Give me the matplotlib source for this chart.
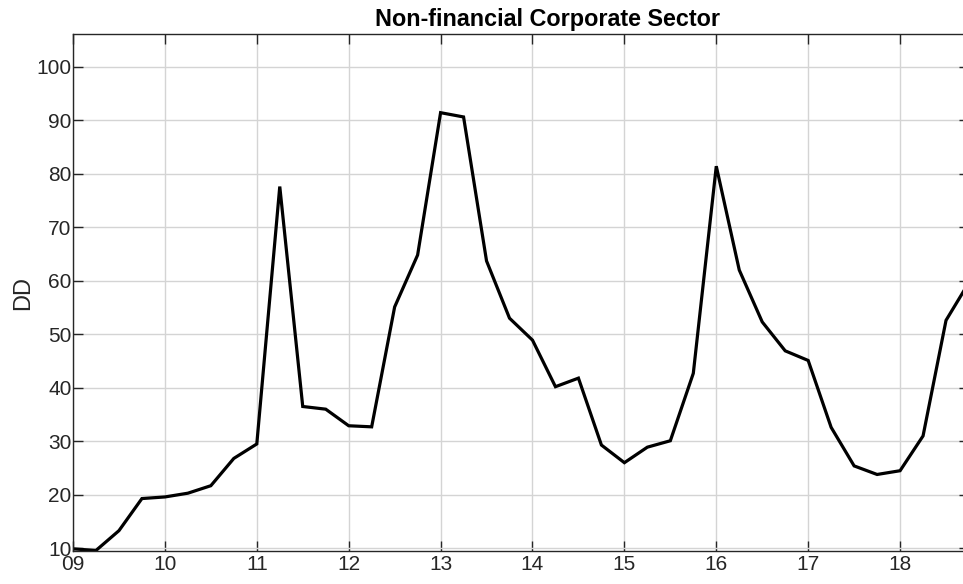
import numpy as np
import matplotlib.pyplot as plt

plt.rcParams['font.family'] = ['Liberation Sans', 'DejaVu Sans']

# quarterly distance-to-default, 2009Q1 .. 2018Q4
quarters = np.arange(2009.0, 2019.0, 0.25) - 2000
dd = [9.9, 9.6, 13.3, 19.3,
      19.6, 20.3, 21.7, 26.8,
      29.5, 77.6, 36.5, 36.0,
      32.9, 32.7, 55.1, 64.8,
      91.4, 90.6, 63.7, 53.0,
      48.9, 40.2, 41.8, 29.3,
      26.0, 28.9, 30.1, 42.7,
      81.4, 62.0, 52.3, 46.9,
      45.1, 32.6, 25.4, 23.8,
      24.5, 31.0, 52.6, 59.7]
xticks = np.arange(9, 19)
xlabels = ['%02d' % t for t in xticks]
yticks = np.arange(10, 101, 10)

fig = plt.figure(figsize=(9.63, 5.84), dpi=100)
ax = fig.add_axes([73 / 963, 33 / 584, 896 / 963, 517 / 584])

ax.plot(quarters, dd, color='black', lw=2.3, solid_joinstyle='miter')

ax.set_xlim(9, 18.75)
ax.set_ylim(9.5, 106.1)
ax.set_xticks(xticks)
ax.set_xticklabels(xlabels)
ax.set_yticks(yticks)

ax.grid(True, color='#d4d4d4', lw=1)
ax.set_axisbelow(True)
ax.tick_params(direction='in', length=7.5, width=1, top=True, right=True,
               labelsize=15, colors='#262626')
ax.tick_params(axis='x', pad=3)
ax.tick_params(axis='y', pad=1)
for s in ax.spines.values():
    s.set_color('#262626')
    s.set_linewidth(1)

ax.set_ylabel('DD', fontsize=17, color='#262626', labelpad=1.5)
ax.set_title('Non-financial Corporate Sector', fontsize=16.8,
             fontweight='bold', x=0.53)

fig.savefig('out.png', dpi=100)
